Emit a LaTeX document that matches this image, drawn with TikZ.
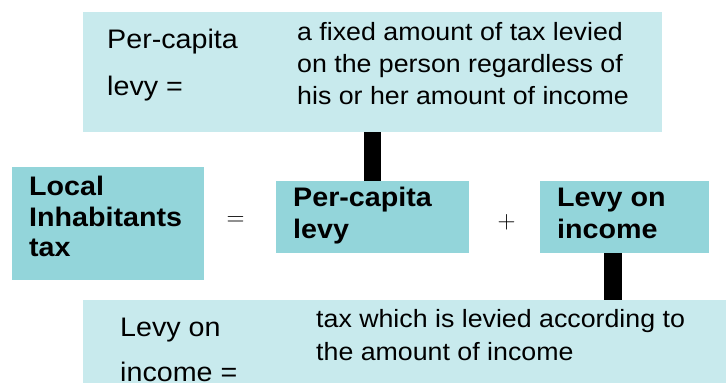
\documentclass[tikz,border=0pt]{standalone}
\usepackage{fontspec}
\setmainfont{Liberation Sans}[FakeStretch=1.07]
\definecolor{midteal}{HTML}{93D5DA}
\definecolor{lightteal}{HTML}{C8EAED}
\begin{document}
\begin{tikzpicture}[x=1pt,y=-1pt,
  midbox/.style={fill=midteal,draw=none,anchor=north west,inner sep=0pt},
  lightbox/.style={fill=lightteal,draw=none,anchor=north west,inner sep=0pt},
  lbl/.style={anchor=base west,inner sep=0pt,font=\fontsize{26.8}{30}\selectfont},
  desc/.style={anchor=base west,inner sep=0pt,font=\fontsize{25}{30}\selectfont},
  bld/.style={anchor=base west,inner sep=0pt,font=\fontsize{26.8}{30}\selectfont\bfseries},
  opsym/.style={inner sep=0pt,font=\fontsize{30}{30}\selectfont},
  bar/.style={draw=black,line width=17.5pt}]
\useasboundingbox (0,0) rectangle (726,383);
% boxes
\node[lightbox,minimum width=579pt,minimum height=120pt] (top) at (83,12) {};
\node[midbox,minimum width=192pt,minimum height=113pt] (local) at (12,167) {};
\node[midbox,minimum width=193pt,minimum height=72pt] (pc) at (276,181) {};
\node[midbox,minimum width=169pt,minimum height=72pt] (levy) at (540,181) {};
\node[lightbox,minimum width=660pt,minimum height=100pt] (bot) at (83,300) {};
% connectors
\coordinate (lb) at ([xshift=-11.5pt]levy.south);
\draw[bar] (pc.north) -- (pc.north |- top.south);
\draw[bar] (lb) -- (lb |- bot.north);
% operators
\node[opsym] (eq) at (235.5,221) {$=$};
\node[opsym] (plus) at (506.5,222) {$+$};
% top box texts
\node[lbl] (t1) at (107,48) {Per-capita};
\node[lbl] (t2) at (107,95) {levy =};
\node[desc] (d1) at (297,40) {a fixed amount of tax levied};
\node[desc] (d2) at (297,72.5) {on the person regardless of};
\node[desc] (d3) at (297,104) {his or her amount of income};
% middle row texts
\node[bld] (l1) at (29,195) {Local};
\node[bld] (l2) at (29,226.7) {Inhabitants};
\node[bld] (l3) at (29,256.7) {tax};
\node[bld] (p1) at (293,206.7) {Per-capita};
\node[bld] (p2) at (293,238.3) {levy};
\node[bld] (v1) at (557,206.7) {Levy on};
\node[bld] (v2) at (557,238.3) {income};
% bottom box texts
\node[lbl] (b1) at (120,336.7) {Levy on};
\node[lbl] (b2) at (120,381.7) {income =};
\node[desc] (e1) at (316,327.3) {tax which is levied according to};
\node[desc] (e2) at (316,360) {the amount of income};
\end{tikzpicture}
\end{document}
